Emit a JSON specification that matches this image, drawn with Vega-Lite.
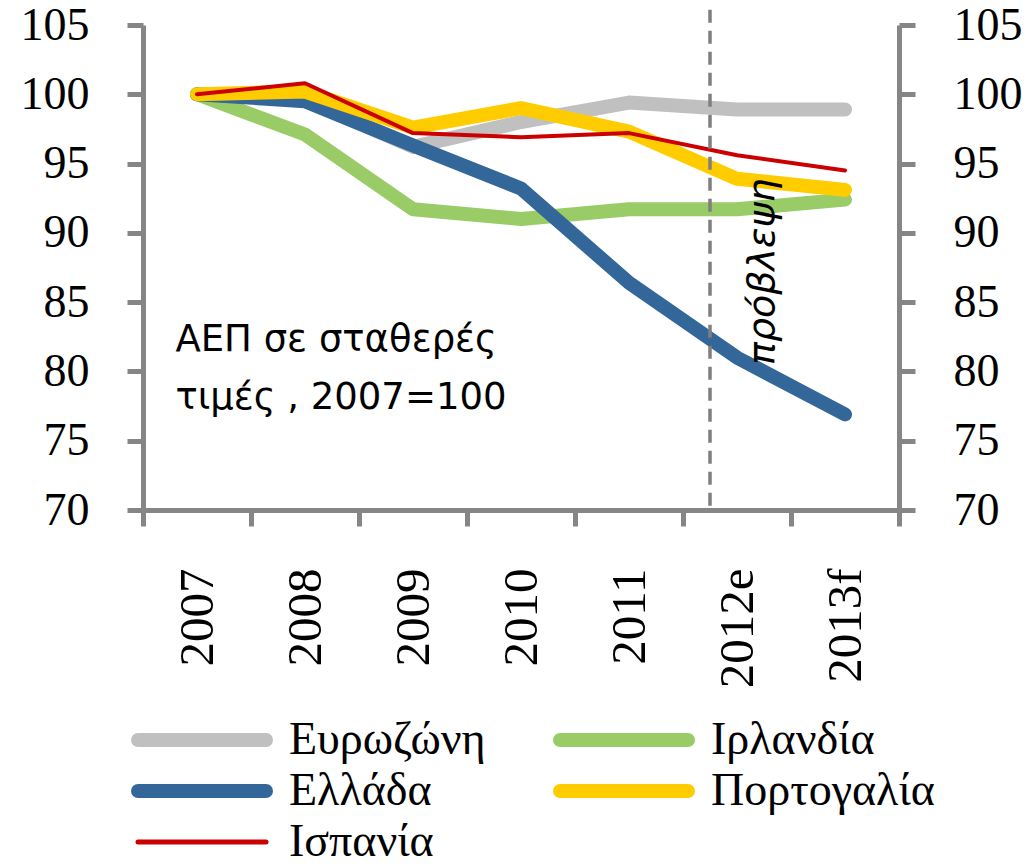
{
  "$schema": "https://vega.github.io/schema/vega-lite/v6.json",
  "width": 756,
  "height": 485,
  "autosize": "none",
  "padding": {"left": 143, "top": 25, "right": 131, "bottom": 358},
  "background": "white",
  "config": {
    "view": {"stroke": null},
    "axis": {
      "grid": false,
      "domainColor": "#868686",
      "domainWidth": 5,
      "tickColor": "#868686",
      "tickWidth": 5,
      "tickSize": 16,
      "labelFont": "Liberation Serif",
      "labelFontSize": 46,
      "labelColor": "#000000",
      "labelPadding": 38,
      "title": null
    }
  },
  "datasets": {
    "gdp": [
      {"year": "2007", "series": "Ευρωζώνη", "value": 100},
      {"year": "2008", "series": "Ευρωζώνη", "value": 99.6},
      {"year": "2009", "series": "Ευρωζώνη", "value": 96.2},
      {"year": "2010", "series": "Ευρωζώνη", "value": 98.0},
      {"year": "2011", "series": "Ευρωζώνη", "value": 99.4},
      {"year": "2012e", "series": "Ευρωζώνη", "value": 98.9},
      {"year": "2013f", "series": "Ευρωζώνη", "value": 98.9},
      {"year": "2007", "series": "Ιρλανδία", "value": 100},
      {"year": "2008", "series": "Ιρλανδία", "value": 97.1},
      {"year": "2009", "series": "Ιρλανδία", "value": 91.7},
      {"year": "2010", "series": "Ιρλανδία", "value": 91.0},
      {"year": "2011", "series": "Ιρλανδία", "value": 91.7},
      {"year": "2012e", "series": "Ιρλανδία", "value": 91.7},
      {"year": "2013f", "series": "Ιρλανδία", "value": 92.4},
      {"year": "2007", "series": "Ελλάδα", "value": 100},
      {"year": "2008", "series": "Ελλάδα", "value": 99.5},
      {"year": "2009", "series": "Ελλάδα", "value": 96.3},
      {"year": "2010", "series": "Ελλάδα", "value": 93.2},
      {"year": "2011", "series": "Ελλάδα", "value": 86.4},
      {"year": "2012e", "series": "Ελλάδα", "value": 81.0},
      {"year": "2013f", "series": "Ελλάδα", "value": 76.9},
      {"year": "2007", "series": "Πορτογαλία", "value": 100},
      {"year": "2008", "series": "Πορτογαλία", "value": 100.2},
      {"year": "2009", "series": "Πορτογαλία", "value": 97.6},
      {"year": "2010", "series": "Πορτογαλία", "value": 99.0},
      {"year": "2011", "series": "Πορτογαλία", "value": 97.3},
      {"year": "2012e", "series": "Πορτογαλία", "value": 93.9},
      {"year": "2013f", "series": "Πορτογαλία", "value": 93.1},
      {"year": "2007", "series": "Ισπανία", "value": 100},
      {"year": "2008", "series": "Ισπανία", "value": 100.8},
      {"year": "2009", "series": "Ισπανία", "value": 97.2},
      {"year": "2010", "series": "Ισπανία", "value": 96.9},
      {"year": "2011", "series": "Ισπανία", "value": 97.2},
      {"year": "2012e", "series": "Ισπανία", "value": 95.6},
      {"year": "2013f", "series": "Ισπανία", "value": 94.5}
    ],
    "forecast": [{"year": "2012e", "top": 106.1, "bottom": 70}],
    "forecastLabel": [{"year": "2012e", "value": 87.2, "label": "πρόβλεψη"}],
    "note": [{"year": "2007", "value": 81.5, "label": ["ΑΕΠ σε σταθερές", "τιμές , 2007=100"]}]
  },
  "layer": [
    {
      "data": {"name": "gdp"},
      "mark": {"type": "line", "strokeCap": "round", "strokeJoin": "round"},
      "encoding": {
        "x": {
          "field": "year",
          "type": "nominal",
          "scale": {"type": "band", "paddingInner": 0, "paddingOuter": 0, "domain": ["2007", "2008", "2009", "2010", "2011", "2012e", "2013f"]},
          "axis": {"orient": "bottom", "labelAngle": -90, "tickBand": "extent", "labelPadding": 42, "labelFontSize": 49}
        },
        "y": {
          "field": "value",
          "type": "quantitative",
          "scale": {"domain": [70, 105], "nice": false, "zero": false},
          "axis": {"orient": "left", "values": [70, 75, 80, 85, 90, 95, 100, 105]}
        },
        "color": {
          "field": "series",
          "type": "nominal",
          "scale": {
            "domain": ["Ευρωζώνη", "Ιρλανδία", "Ελλάδα", "Πορτογαλία", "Ισπανία"],
            "range": ["#C0C0C0", "#99CC66", "#336699", "#FFCC00", "#CC0000"]
          },
          "legend": {
            "orient": "none",
            "legendX": 36,
            "legendY": 692,
            "title": null,
            "columns": 2,
            "direction": "horizontal",
            "symbolType": "stroke",
            "symbolSize": 16384,
            "symbolStrokeWidth": 14,
            "labelFont": "Liberation Serif",
            "labelFontSize": 46,
            "labelColor": "#000000",
            "labelOffset": 64,
            "rowPadding": -86,
            "columnPadding": 46,
            "labelLimit": 400,
            "encode": {
              "symbols": {
                "update": {
                  "strokeWidth": {"signal": "datum.value === 'Ισπανία' ? 5 : 14"},
                  "strokeCap": {"value": "round"}
                }
              }
            }
          }
        },
        "strokeWidth": {
          "condition": {"test": "datum.series === 'Ισπανία'", "value": 4},
          "value": 14
        }
      }
    },
    {
      "data": {"name": "forecast"},
      "mark": {"type": "rule", "color": "#7F7F7F", "strokeWidth": 3.5, "strokeDash": [13, 8]},
      "encoding": {
        "x": {"field": "year", "type": "nominal", "bandPosition": 0.25},
        "y": {"field": "top", "type": "quantitative", "axis": {"orient": "right", "values": [70, 75, 80, 85, 90, 95, 100, 105]}},
        "y2": {"field": "bottom"}
      }
    },
    {
      "data": {"name": "forecastLabel"},
      "mark": {"type": "text", "angle": 270, "align": "center", "baseline": "middle", "font": "DejaVu Sans", "fontStyle": "italic", "fontSize": 38, "color": "#000000"},
      "encoding": {
        "x": {"field": "year", "type": "nominal", "bandPosition": 0.74},
        "y": {"field": "value", "type": "quantitative", "axis": null},
        "text": {"field": "label"}
      }
    },
    {
      "data": {"name": "note"},
      "mark": {"type": "text", "align": "left", "baseline": "alphabetic", "font": "DejaVu Sans", "fontSize": 37, "lineHeight": 58, "color": "#000000"},
      "encoding": {
        "x": {"field": "year", "type": "nominal", "bandPosition": 0.3},
        "y": {"field": "value", "type": "quantitative", "axis": null},
        "text": {"field": "label"}
      }
    }
  ],
  "resolve": {"axis": {"y": "independent"}}
}
